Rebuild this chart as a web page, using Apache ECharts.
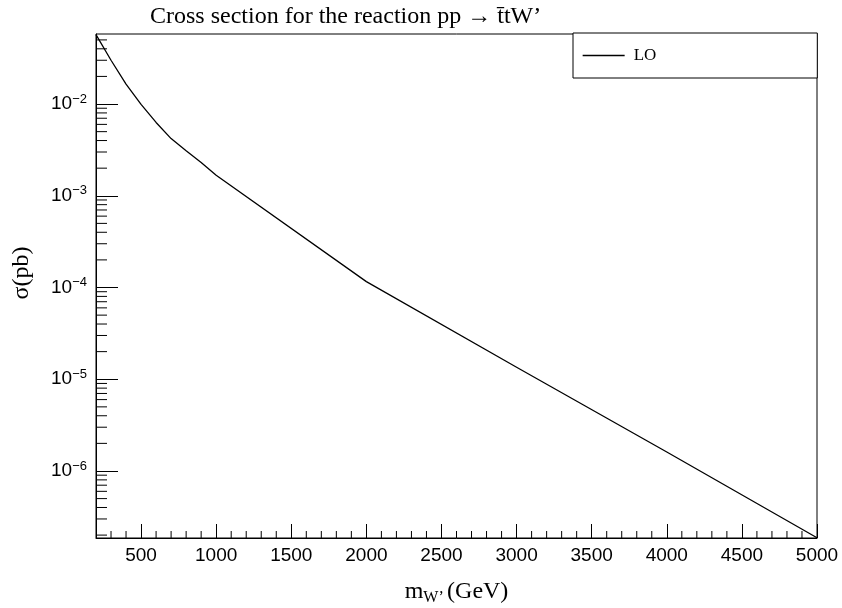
<!DOCTYPE html>
<html>
<head>
<meta charset="utf-8">
<script src="https://cdn.jsdelivr.net/npm/echarts@6/dist/echarts.min.js"></script>
<style>
html, body { margin: 0; padding: 0; background: #fff; }
#chart { width: 842px; height: 608px; }
</style>
</head>
<body>
<div id="chart"></div>
<script>
// W' mass points (GeV) and LO cross section (pb)
const masses = [200, 300, 400, 500, 600, 700, 800, 900, 1000, 2000, 3000, 4000, 5000];
const sigmaLO = [0.057, 0.030, 0.0165, 0.0099, 0.0063, 0.0042, 0.0031, 0.0023, 0.00167, 1.16e-4, 1.35e-5, 1.61e-6, 1.87e-7];

// axis ticks
const xMajorTicks = [500, 1000, 1500, 2000, 2500, 3000, 3500, 4000, 4500, 5000];
const yMajorTicks = [1e-6, 1e-5, 1e-4, 1e-3, 1e-2];
const xRange = [200, 5000];
const yRange = [1.86e-7, 0.058];

// minor ticks: every 100 GeV on x, 2..9 x 10^n on y (ROOT style)
const xMinorTicks = [];
for (let m = xRange[0]; m < xRange[1]; m += 100) {
    if (m % 500 !== 0 && m > xRange[0]) xMinorTicks.push(m);
}
const yMinorTicks = [];
for (let e = -7; e <= -1; e++) {
    for (let k = 2; k <= 9; k++) {
        const v = k * Math.pow(10, e);
        if (v > yRange[0] && v < yRange[1]) yMinorTicks.push(v);
    }
}

const serif = '"Liberation Serif", "Times New Roman", serif';
const sans = '"Liberation Sans", Arial, sans-serif';

function tickSeries(points, dx, dy) {
    return {
        type: 'custom',
        silent: true,
        z: 4,
        clip: false,
        data: points,
        renderItem: function (params, api) {
            const p = api.coord([api.value(0), api.value(1)]);
            return {
                type: 'line',
                shape: { x1: p[0], y1: p[1], x2: p[0] + dx, y2: p[1] + dy },
                style: { stroke: '#000', lineWidth: 1 }
            };
        }
    };
}

const chart = echarts.init(document.getElementById('chart'), null, { renderer: 'canvas' });

chart.setOption({
    animation: false,
    backgroundColor: '#fff',
    title: {
        text: 'Cross section for the reaction pp \u2192 t\u0304tW\u2019',
        left: 150,
        top: 5,
        padding: 0,
        textStyle: { fontFamily: serif, fontSize: 24, fontWeight: 'normal', color: '#000' }
    },
    legend: {
        data: ['LO'],
        left: 573,
        top: 33,
        itemWidth: 42,
        itemHeight: 14,
        padding: [14, 161, 14, 9],
        borderColor: '#000',
        borderWidth: 1,
        backgroundColor: '#fff',
        itemStyle: { opacity: 0 },
        lineStyle: { color: '#000', width: 1.3 },
        textStyle: { fontFamily: serif, fontSize: 17, color: '#000', padding: [0, 0, 0, 4] }
    },
    grid: {
        left: 96, right: 25, top: 34, bottom: 70,
        outerBoundsMode: 'none',
        show: true, borderColor: '#000', borderWidth: 1
    },
    xAxis: {
        type: 'value',
        min: xRange[0],
        max: xRange[1],
        name: '{a|m}{s|W\u2019} {a|(GeV)}',
        nameLocation: 'middle',
        nameGap: 40,
        nameTextStyle: {
            rich: {
                a: { fontFamily: serif, fontSize: 24, color: '#000' },
                s: { fontFamily: serif, fontSize: 16, color: '#000', padding: [12, 0, 0, 0] }
            }
        },
        axisLine: { lineStyle: { color: '#000', width: 1 } },
        axisTick: { inside: true, length: 14, customValues: xMajorTicks, lineStyle: { color: '#000' } },
        axisLabel: {
            customValues: xMajorTicks,
            margin: 8,
            formatter: v => String(v),
            fontFamily: sans, fontSize: 19, color: '#000'
        },
        splitLine: { show: false }
    },
    yAxis: {
        type: 'log',
        min: yRange[0],
        max: yRange[1],
        name: '\u03c3(pb)',
        nameLocation: 'middle',
        nameGap: 62,
        nameTextStyle: { fontFamily: serif, fontSize: 24, color: '#000', padding: [0, 0, 0, 26] },
        axisLine: { lineStyle: { color: '#000', width: 1 } },
        axisTick: { inside: true, length: 22, customValues: yMajorTicks, lineStyle: { color: '#000' } },
        axisLabel: {
            customValues: yMajorTicks,
            margin: 9,
            formatter: function (v) {
                const e = Math.round(Math.log10(v));
                return '{b|10}{e|\u2212' + Math.abs(e) + '}';
            },
            rich: {
                b: { fontFamily: sans, fontSize: 19, color: '#000' },
                e: { fontFamily: sans, fontSize: 13, color: '#000', padding: [0, 0, 10, 0] }
            }
        },
        splitLine: { show: false }
    },
    series: [
        {
            name: 'LO',
            type: 'line',
            symbol: 'none',
            z: 5,
            data: masses.map((m, i) => [m, sigmaLO[i]]),
            lineStyle: { color: '#000', width: 1.3 },
            itemStyle: { color: '#000' }
        },
        tickSeries(xMinorTicks.map(m => [m, yRange[0]]), 0, -7),
        tickSeries(yMinorTicks.map(v => [xRange[0], v]), 11, 0)
    ]
});
</script>
</body>
</html>
